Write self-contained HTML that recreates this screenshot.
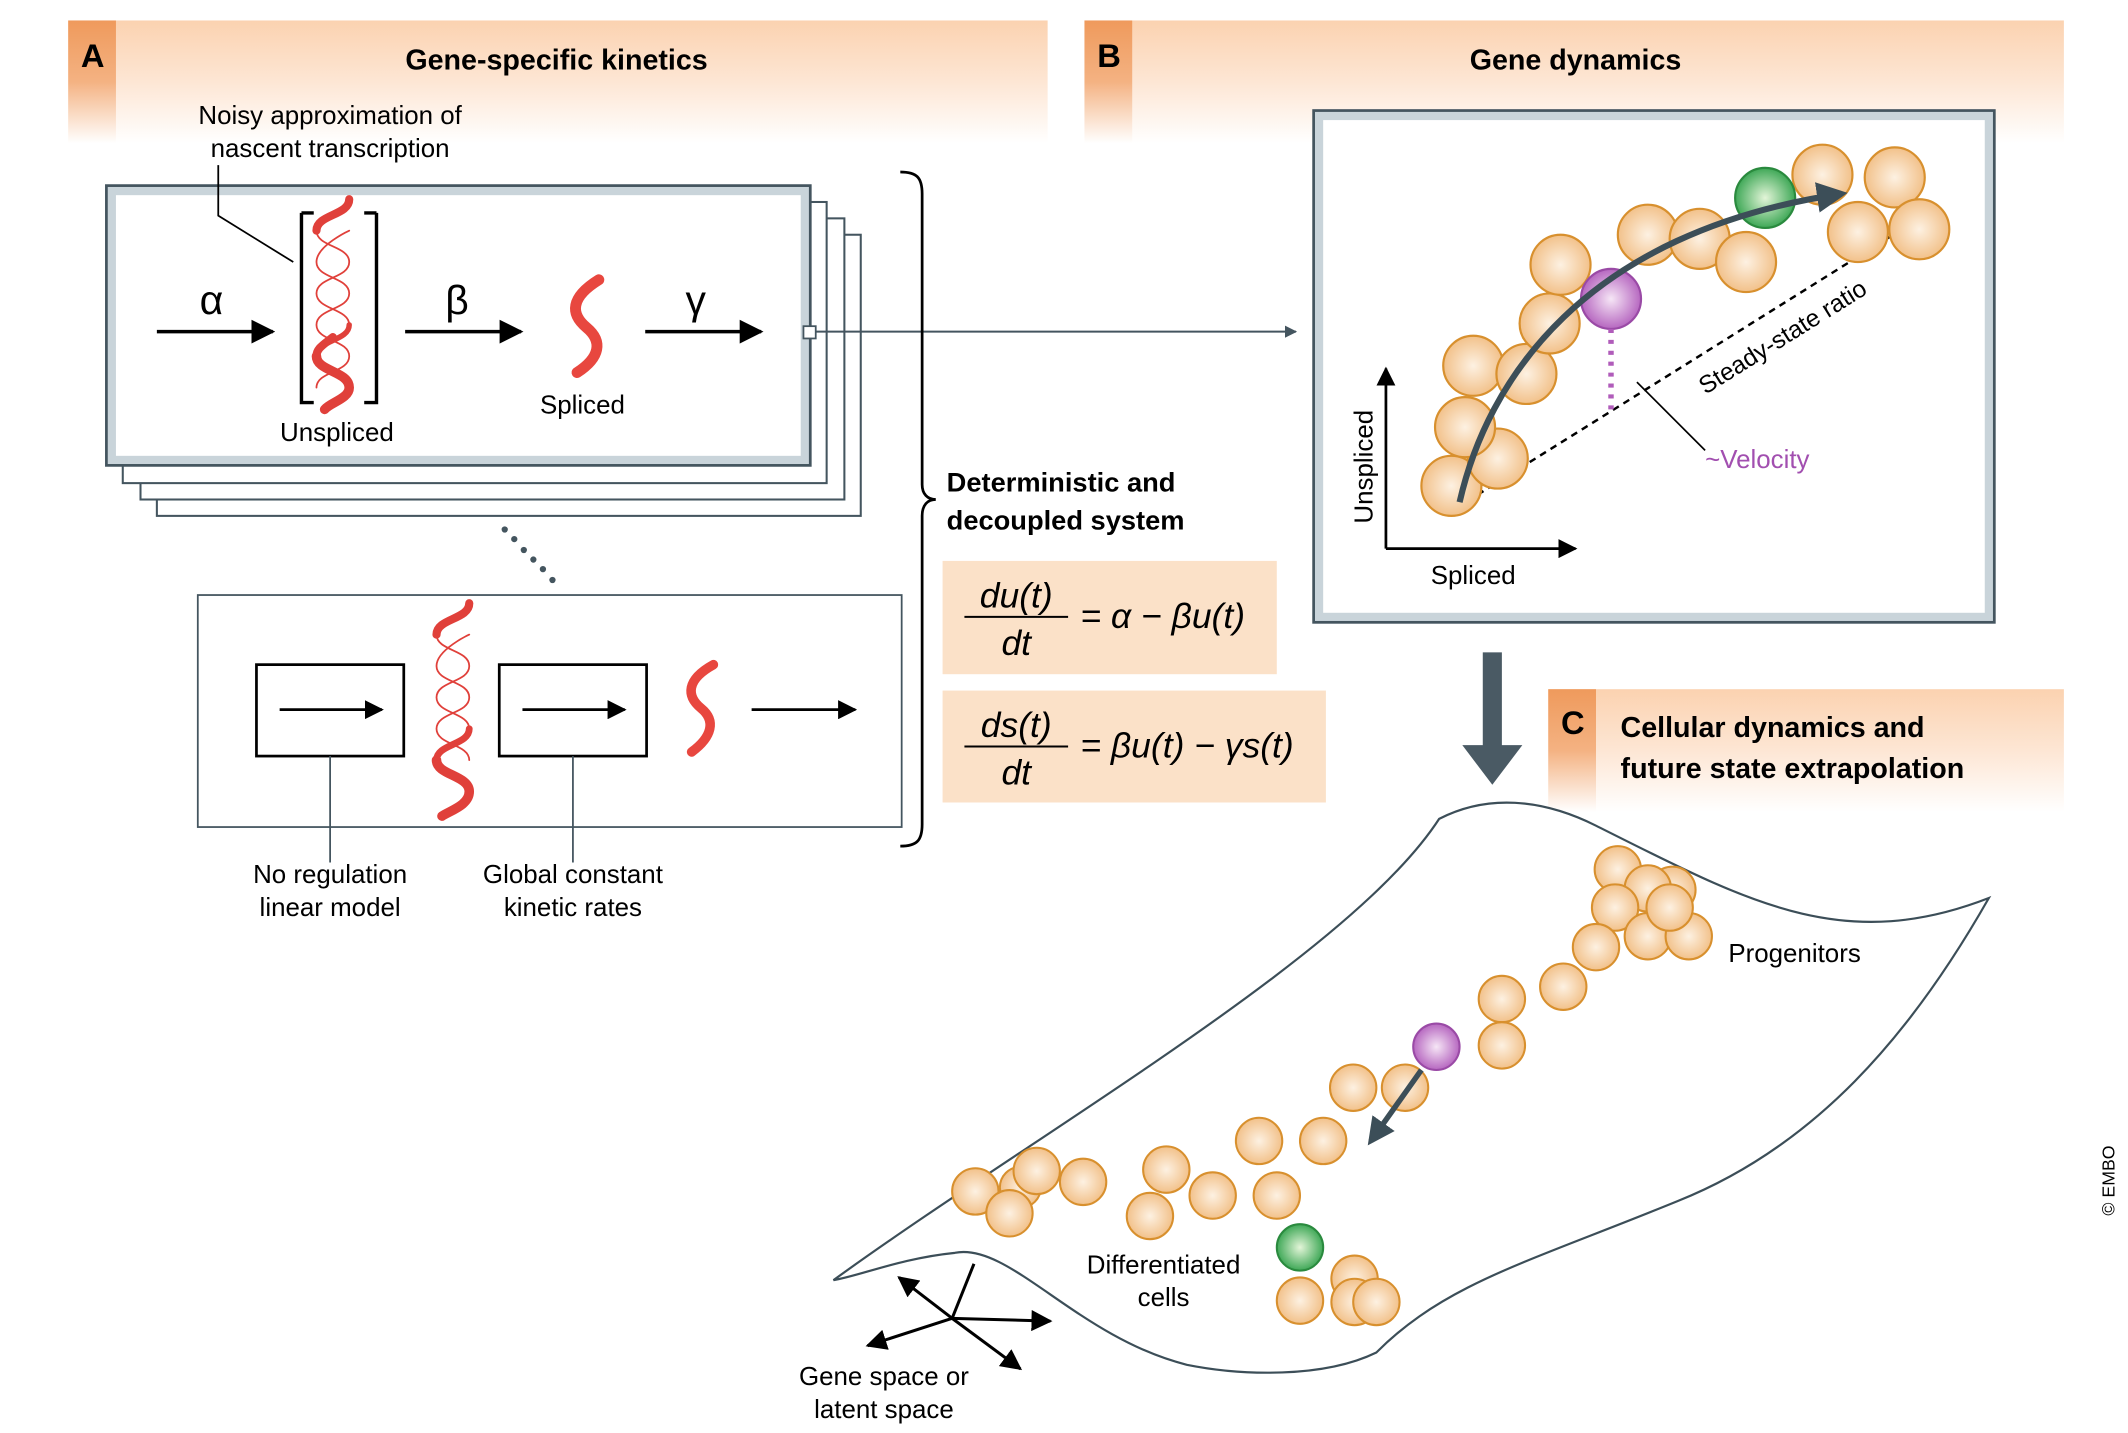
<!DOCTYPE html>
<html><head><meta charset="utf-8"><style>
html,body{margin:0;padding:0;background:#fff;}
svg{display:block;}
text{font-family:"Liberation Sans",sans-serif;}
</style></head><body>
<svg width="2128" height="1433" viewBox="0 0 1560 1050" preserveAspectRatio="none" xmlns="http://www.w3.org/2000/svg">
<defs>
<linearGradient id="hdr" x1="0" y1="0" x2="0" y2="1"><stop offset="0" stop-color="#fbd2b0"/><stop offset="0.5" stop-color="#fde6d4"/><stop offset="1" stop-color="#ffffff"/></linearGradient>
<linearGradient id="tab" x1="0" y1="0" x2="0" y2="1"><stop offset="0" stop-color="#ef9a5c"/><stop offset="0.5" stop-color="#f4b282"/><stop offset="1" stop-color="#ffffff"/></linearGradient>
<radialGradient id="cell" cx="0.5" cy="0.5" r="0.5"><stop offset="0" stop-color="#fdf1e2"/><stop offset="1" stop-color="#f2c18a"/></radialGradient>
<radialGradient id="grn" cx="0.5" cy="0.5" r="0.5"><stop offset="0" stop-color="#e3f5d8"/><stop offset="1" stop-color="#3fa857"/></radialGradient>
<radialGradient id="pur" cx="0.5" cy="0.5" r="0.5"><stop offset="0" stop-color="#f6e6f6"/><stop offset="1" stop-color="#b667c0"/></radialGradient>
<marker id="ah" viewBox="0 0 10 10" refX="9" refY="5" markerWidth="7" markerHeight="7" orient="auto"><path d="M0,0 L10,5 L0,10 z" fill="#000"/></marker>
<marker id="ahs" viewBox="0 0 10 10" refX="9" refY="5" markerWidth="6" markerHeight="6" orient="auto"><path d="M0,0 L10,5 L0,10 z" fill="#44555f"/></marker>
<marker id="ahb" viewBox="0 0 10 10" refX="8" refY="5" markerWidth="5" markerHeight="5" orient="auto"><path d="M0,0 L10,5 L0,10 z" fill="#3c4e58"/></marker>
</defs>

<!-- headers -->
<rect x="50" y="15" width="718" height="90" fill="url(#hdr)"/>
<rect x="50" y="15" width="35" height="90" fill="url(#tab)"/>
<text x="68" y="49" font-size="24" font-weight="bold" text-anchor="middle">A</text>
<text x="408" y="51" font-size="21" font-weight="bold" text-anchor="middle">Gene-specific kinetics</text>

<rect x="795" y="15" width="718" height="90" fill="url(#hdr)"/>
<rect x="795" y="15" width="35" height="90" fill="url(#tab)"/>
<text x="813" y="49" font-size="24" font-weight="bold" text-anchor="middle">B</text>
<text x="1155" y="51" font-size="21" font-weight="bold" text-anchor="middle">Gene dynamics</text>

<rect x="1135" y="505" width="378" height="90" fill="url(#hdr)"/>
<rect x="1135" y="505" width="35" height="90" fill="url(#tab)"/>
<text x="1153" y="538" font-size="24" font-weight="bold" text-anchor="middle">C</text>
<text x="1188" y="540" font-size="21" font-weight="bold">Cellular dynamics and</text>
<text x="1188" y="570" font-size="21" font-weight="bold">future state extrapolation</text>

<!-- Panel A stacked boxes -->
<rect x="115" y="172" width="516" height="206" fill="#fff" stroke="#44555f" stroke-width="1.5"/>
<rect x="103" y="160" width="516" height="206" fill="#fff" stroke="#44555f" stroke-width="1.5"/>
<rect x="90" y="148" width="516" height="206" fill="#fff" stroke="#44555f" stroke-width="1.5"/>
<rect x="78" y="136" width="516" height="205" fill="#c9d4da" stroke="#44555f" stroke-width="2"/>
<rect x="85" y="143" width="502" height="191" fill="#fff"/>

<text x="242" y="91" font-size="19" text-anchor="middle">Noisy approximation of</text>
<text x="242" y="115" font-size="19" text-anchor="middle">nascent transcription</text>
<polyline points="160,121 160,158 215,192" fill="none" stroke="#000" stroke-width="1.3"/>

<path d="M115,243 H200" stroke="#000" stroke-width="2.5" marker-end="url(#ah)"/>
<text x="155" y="230" font-size="30" font-family="Liberation Serif" text-anchor="middle">α</text>
<path d="M221,156 H230 M221,156 V295 H230 M276,156 H267 M276,156 V295 H267" fill="none" stroke="#000" stroke-width="2.5"/>
<!-- unspliced helix -->
<g fill="none" stroke="#e0403a" stroke-linecap="round">
<path d="M256,146 C256,158 232,157 232,169 S256,180 256,192 S232,203 232,215 S256,226 256,238 S232,249 232,261 S256,272 256,284 S240,295 238,300" stroke-width="1.3"/>
<path d="M232,169 S256,180 256,192 S232,203 232,215 S256,226 256,238 S232,249 232,261 S256,272 256,284" stroke-width="1.3" transform="translate(488,0) scale(-1,1)"/>
<path d="M256,146 C256,158 232,157 232,169" stroke-width="6"/>
<path d="M232,261 C232,272 256,272 256,284 C256,292 242,295 238,300" stroke-width="7"/>
<path d="M244,247 C238,252 232,255 232,261" stroke-width="6"/>
<path d="M256,238 C256,250 232,249 232,261" stroke-width="4"/>
</g>
<text x="247" y="323" font-size="19" text-anchor="middle">Unspliced</text>

<path d="M297,243 H382" stroke="#000" stroke-width="2.5" marker-end="url(#ah)"/>
<text x="335" y="230" font-size="30" font-family="Liberation Serif" text-anchor="middle">β</text>
<path d="M439,205 C418,218 418,230 430,240 C442,250 440,262 423,273" fill="none" stroke="#e8473f" stroke-width="8" stroke-linecap="round"/>
<text x="427" y="303" font-size="19" text-anchor="middle">Spliced</text>
<path d="M473,243 H558" stroke="#000" stroke-width="2.5" marker-end="url(#ah)"/>
<text x="510" y="230" font-size="30" font-family="Liberation Serif" text-anchor="middle">γ</text>

<rect x="589" y="239" width="9" height="9" fill="#fff" stroke="#44555f" stroke-width="1.3"/>
<path d="M598,243 H950" stroke="#44555f" stroke-width="1.5" marker-end="url(#ahs)"/>

<!-- dots -->
<g fill="#44555f"><circle cx="370" cy="388" r="2.3"/><circle cx="377" cy="395" r="2.3"/><circle cx="384" cy="403" r="2.3"/><circle cx="391" cy="410" r="2.3"/><circle cx="398" cy="417" r="2.3"/><circle cx="405" cy="425" r="2.3"/></g>

<!-- lower box -->
<rect x="145" y="436" width="516" height="170" fill="#fff" stroke="#44555f" stroke-width="1.3"/>
<rect x="188" y="487" width="108" height="67" fill="#fff" stroke="#000" stroke-width="2"/>
<path d="M205,520 H280" stroke="#000" stroke-width="2" marker-end="url(#ah)"/>
<rect x="366" y="487" width="108" height="67" fill="#fff" stroke="#000" stroke-width="2"/>
<path d="M383,520 H458" stroke="#000" stroke-width="2" marker-end="url(#ah)"/>
<g fill="none" stroke="#e0403a" stroke-linecap="round">
<path d="M344,442 C344,454 320,453 320,465 S344,476 344,488 S320,499 320,511 S344,522 344,534 S320,545 320,557 S344,568 344,580 S328,594 324,598" stroke-width="1.3"/>
<path d="M320,465 S344,476 344,488 S320,499 320,511 S344,522 344,534 S320,545 320,557" stroke-width="1.3" transform="translate(664,0) scale(-1,1)"/>
<path d="M344,442 C344,454 320,453 320,465" stroke-width="6"/>
<path d="M320,557 C320,568 344,568 344,580 C344,590 330,594 324,598" stroke-width="7"/>
<path d="M344,534 C344,546 320,545 320,557" stroke-width="5"/>
</g>
<path d="M523,487 C503,498 503,510 514,519 C525,528 522,540 507,551" fill="none" stroke="#e8473f" stroke-width="7" stroke-linecap="round"/>
<path d="M551,520 H627" stroke="#000" stroke-width="2" marker-end="url(#ah)"/>
<path d="M242,554 V632 M420,554 V632" stroke="#44555f" stroke-width="1.3"/>
<text x="242" y="647" font-size="19" text-anchor="middle">No regulation</text>
<text x="242" y="671" font-size="19" text-anchor="middle">linear model</text>
<text x="420" y="647" font-size="19" text-anchor="middle">Global constant</text>
<text x="420" y="671" font-size="19" text-anchor="middle">kinetic rates</text>

<!-- brace -->
<path d="M660,126 C672,126 676,130 676,142 V355 C676,362 680,366 686,366 C680,366 676,370 676,378 V604 C676,616 672,620 660,620" fill="none" stroke="#000" stroke-width="2"/>
<text x="694" y="360" font-size="20" font-weight="bold">Deterministic and</text>
<text x="694" y="388" font-size="20" font-weight="bold">decoupled system</text>

<rect x="691" y="411" width="245" height="83" fill="#fbe1c8"/>
<g font-family="Liberation Serif" font-style="italic" font-size="26">
<text x="745" y="445" text-anchor="middle">du(t)</text>
<line x1="707" y1="452" x2="783" y2="452" stroke="#000" stroke-width="1.5"/>
<text x="745" y="480" text-anchor="middle">dt</text>
<text x="792" y="460">= α − βu(t)</text>
</g>
<rect x="691" y="506" width="281" height="82" fill="#fbe1c8"/>
<g font-family="Liberation Serif" font-style="italic" font-size="26">
<text x="745" y="540" text-anchor="middle">ds(t)</text>
<line x1="707" y1="547" x2="783" y2="547" stroke="#000" stroke-width="1.5"/>
<text x="745" y="575" text-anchor="middle">dt</text>
<text x="792" y="555">= βu(t) − γs(t)</text>
</g>

<!-- Panel B -->
<rect x="963" y="81" width="499" height="375" fill="#c9d4da" stroke="#44555f" stroke-width="2"/>
<rect x="970" y="88" width="485" height="361" fill="#fff"/>
<path d="M1068,372 L1415,155" stroke="#000" stroke-width="1.8" stroke-dasharray="5,4"/>
<path d="M1016,402 V270" stroke="#000" stroke-width="2" marker-end="url(#ah)"/>
<path d="M1016,402 H1155" stroke="#000" stroke-width="2" marker-end="url(#ah)"/>
<text x="1080" y="428" font-size="19" text-anchor="middle">Spliced</text>
<text transform="translate(1006,342) rotate(-90)" font-size="19" text-anchor="middle">Unspliced</text>
<text transform="translate(1310,252) rotate(-32)" font-size="18" text-anchor="middle">Steady-state ratio</text>
<g fill="url(#cell)" stroke="#d8902e" stroke-width="1.6">
<circle cx="1064" cy="356" r="22"/><circle cx="1098" cy="336" r="22"/><circle cx="1074" cy="313" r="22"/>
<circle cx="1080" cy="268" r="22"/><circle cx="1119" cy="274" r="22"/><circle cx="1136" cy="237" r="22"/>
<circle cx="1144" cy="194" r="22"/><circle cx="1208" cy="172" r="22"/><circle cx="1246" cy="175" r="22"/>
<circle cx="1280" cy="192" r="22"/><circle cx="1336" cy="128" r="22"/><circle cx="1389" cy="130" r="22"/>
<circle cx="1362" cy="170" r="22"/><circle cx="1407" cy="168" r="22"/>
</g>
<circle cx="1294" cy="145" r="22" fill="url(#grn)" stroke="#2a8a3e" stroke-width="1.6"/>
<circle cx="1181" cy="219" r="22" fill="url(#pur)" stroke="#9a4aa6" stroke-width="1.6"/>
<path d="M1181,241 V302" stroke="#b05cba" stroke-width="4" stroke-dasharray="3,5"/>
<path d="M1200,280 L1250,330" stroke="#000" stroke-width="1.2"/>
<text x="1250" y="343" font-size="19" fill="#a24fb0">~Velocity</text>
<path d="M1070,368 C1090,280 1160,170 1350,142" fill="none" stroke="#3c4e58" stroke-width="4.5" marker-end="url(#ahb)"/>

<!-- big arrow -->
<rect x="1087" y="478" width="14" height="70" fill="#4a5a64"/>
<path d="M1072,546 H1116 L1094,575 Z" fill="#4a5a64"/>

<!-- Panel C manifold -->
<path d="M611,938 C760,830 990,700 1055,600 C1090,582 1130,585 1170,605 C1280,660 1350,700 1458,658 C1400,760 1330,840 1230,880 C1120,925 1060,940 1009,991 C970,1010 910,1008 870,1000 C790,980 740,910 700,918 C660,922 630,935 611,938 Z" fill="#fff" stroke="#3c4e58" stroke-width="1.6"/>
<g fill="url(#cell)" stroke="#d8902e" stroke-width="1.5">
<circle cx="1186" cy="637" r="17"/><circle cx="1226" cy="652" r="17"/><circle cx="1208" cy="651" r="17"/>
<circle cx="1184" cy="665" r="17"/><circle cx="1208" cy="686" r="17"/><circle cx="1238" cy="686" r="17"/>
<circle cx="1224" cy="665" r="17"/><circle cx="1170" cy="694" r="17"/><circle cx="1146" cy="723" r="17"/>
<circle cx="1101" cy="732" r="17"/><circle cx="1101" cy="766" r="17"/><circle cx="992" cy="797" r="17"/>
<circle cx="1030" cy="797" r="17"/><circle cx="970" cy="836" r="17"/><circle cx="923" cy="836" r="17"/>
<circle cx="855" cy="857" r="17"/><circle cx="889" cy="876" r="17"/><circle cx="936" cy="876" r="17"/>
<circle cx="843" cy="891" r="17"/><circle cx="794" cy="866" r="17"/><circle cx="715" cy="873" r="17"/>
<circle cx="748" cy="870" r="15"/><circle cx="760" cy="858" r="17"/><circle cx="740" cy="889" r="17"/>
<circle cx="993" cy="937" r="17"/><circle cx="953" cy="953" r="17"/><circle cx="993" cy="954" r="17"/>
<circle cx="1009" cy="954" r="17"/>
</g>
<circle cx="1053" cy="767" r="17" fill="url(#pur)" stroke="#9a4aa6" stroke-width="1.5"/>
<circle cx="953" cy="914" r="17" fill="url(#grn)" stroke="#2a8a3e" stroke-width="1.5"/>
<path d="M1042,784 L1005,836" stroke="#3c4e58" stroke-width="4" marker-end="url(#ahb)"/>
<text x="1267" y="705" font-size="19">Progenitors</text>
<text x="853" y="933" font-size="19" text-anchor="middle">Differentiated</text>
<text x="853" y="957" font-size="19" text-anchor="middle">cells</text>

<g stroke="#000" stroke-width="2.2" fill="none">
<path d="M698,966 L714,926"/>
<path d="M698,966 L659,936" marker-end="url(#ah)"/>
<path d="M698,966 L770,968" marker-end="url(#ah)"/>
<path d="M698,966 L748,1003" marker-end="url(#ah)"/>
<path d="M698,966 L636,986" marker-end="url(#ah)"/>
</g>
<text x="648" y="1015" font-size="19" text-anchor="middle">Gene space or</text>
<text x="648" y="1039" font-size="19" text-anchor="middle">latent space</text>

<text transform="translate(1550,865) rotate(-90)" font-size="13" text-anchor="middle">© EMBO</text>
</svg>
</body></html>
